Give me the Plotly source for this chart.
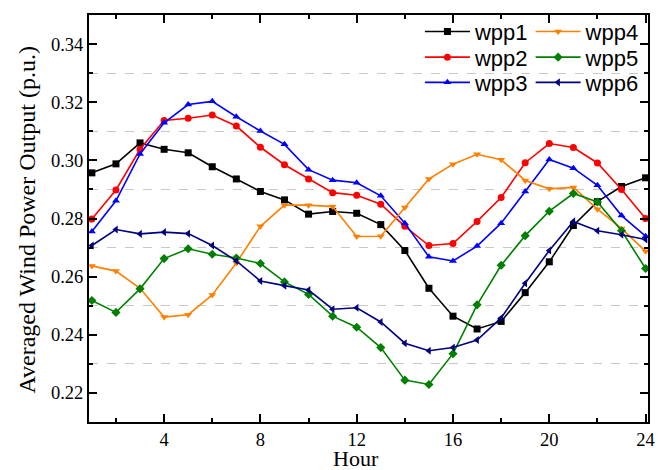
import plotly.graph_objects as go

hours = list(range(1, 25))
wpp1 = [0.2957, 0.2988, 0.3060, 0.3038, 0.3026, 0.2978, 0.2936, 0.2893, 0.2864, 0.2815, 0.2824, 0.2818,
        0.2779, 0.2690, 0.2560, 0.2464, 0.2420, 0.2446, 0.2545, 0.2651, 0.2776, 0.2858, 0.2910, 0.2940]
wpp2 = [0.2798, 0.2898, 0.3038, 0.3137, 0.3145, 0.3156, 0.3118, 0.3045, 0.2985, 0.2936, 0.2889, 0.2880,
        0.2849, 0.2773, 0.2707, 0.2714, 0.2790, 0.2872, 0.2992, 0.3058, 0.3044, 0.2991, 0.2900, 0.2800]
wpp3 = [0.2755, 0.2861, 0.3022, 0.3129, 0.3192, 0.3203, 0.3150, 0.3101, 0.3055, 0.2968, 0.2932, 0.2923,
        0.2878, 0.2784, 0.2668, 0.2654, 0.2705, 0.2784, 0.2893, 0.3003, 0.2973, 0.2914, 0.2810, 0.2739]
wpp4 = [0.2637, 0.2619, 0.2560, 0.2461, 0.2469, 0.2537, 0.2647, 0.2773, 0.2846, 0.2846, 0.2841, 0.2738,
        0.2739, 0.2838, 0.2936, 0.2987, 0.3021, 0.3002, 0.2931, 0.2902, 0.2907, 0.2832, 0.2766, 0.2687]
wpp5 = [0.2518, 0.2477, 0.2558, 0.2662, 0.2696, 0.2677, 0.2664, 0.2645, 0.2582, 0.2539, 0.2464, 0.2426,
        0.2356, 0.2244, 0.2229, 0.2335, 0.2503, 0.2639, 0.2741, 0.2825, 0.2886, 0.2857, 0.2758, 0.2628]
wpp6 = [0.2707, 0.2762, 0.2747, 0.2753, 0.2748, 0.2707, 0.2654, 0.2585, 0.2569, 0.2554, 0.2488, 0.2493,
        0.2444, 0.2371, 0.2345, 0.2356, 0.2382, 0.2458, 0.2577, 0.2690, 0.2790, 0.2758, 0.2744, 0.2728]

x_title = "Hour"
y_title = "Averaged Wind Power Output (p.u.)"

# name, values, colour, marker, legend id, (legend x, legend y)
series = [
    ("wpp1", wpp1, "#000000", "square", "legend", (0.592, 0.959)),
    ("wpp2", wpp2, "#FF0000", "circle", "legend2", (0.592, 0.896)),
    ("wpp3", wpp3, "#0000FF", "triangle-up", "legend3", (0.592, 0.834)),
    ("wpp4", wpp4, "#FF8000", "triangle-down", "legend4", (0.790, 0.959)),
    ("wpp5", wpp5, "#008000", "diamond", "legend5", (0.790, 0.896)),
    ("wpp6", wpp6, "#000080", "triangle-left", "legend6", (0.790, 0.834)),
]

fig = go.Figure()
legend_font = dict(family="Liberation Sans, Arial, sans-serif", size=22, color="black")
layout_legends = {}
for name, vals, color, sym, lg, (lx, ly) in series:
    fig.add_trace(go.Scatter(
        x=hours, y=vals, name=name, mode="lines+markers",
        line=dict(color=color, width=1.6),
        marker=dict(symbol=sym, size=7, color=color),
        legend=lg,
    ))
    layout_legends[lg] = dict(
        x=lx, y=ly, xanchor="left", yanchor="middle",
        font=legend_font, bgcolor="rgba(0,0,0,0)", itemwidth=45,
        borderwidth=0,
    )

serif = "Liberation Serif, Times New Roman, serif"
fig.update_layout(
    width=659, height=462,
    margin=dict(l=81, r=19, t=3, b=48),
    paper_bgcolor="white", plot_bgcolor="white",
    font=dict(family=serif, size=18.5, color="black"),
    showlegend=True,
    **layout_legends,
)
fig.add_annotation(
    text=x_title, xref="paper", yref="paper", x=0.5, y=0,
    xanchor="center", yanchor="middle", xshift=-13, yshift=-36,
    showarrow=False, font=dict(family=serif, size=22, color="black"),
)
fig.add_annotation(
    text=y_title, xref="paper", yref="paper", x=0, y=0.5,
    xanchor="center", yanchor="middle", xshift=-63, yshift=-2, textangle=-90,
    showarrow=False, font=dict(family=serif, size=24, color="black"),
)
fig.update_xaxes(
    range=[0.88, 24.1], tick0=0, dtick=4, automargin=False,
    ticks="inside", ticklen=8, tickwidth=1.5, tickcolor="black",
    showline=True, linecolor="black", linewidth=2, mirror="ticks",
    showgrid=False, zeroline=False,
    minor=dict(dtick=2, tick0=0, ticks="inside", ticklen=4, tickwidth=1.5, tickcolor="black", showgrid=False),
    tickfont=dict(family=serif, size=18.5),
)
fig.update_yaxes(
    range=[0.21, 0.35], tick0=0, dtick=0.02, tickformat=".2f", automargin=False,
    ticks="inside", ticklen=8, tickwidth=1.5, tickcolor="black",
    showline=True, linecolor="black", linewidth=2, mirror="ticks",
    showgrid=False, zeroline=False,
    minor=dict(dtick=0.01, tick0=0, ticks="inside", ticklen=4, tickwidth=1.5, tickcolor="black",
               showgrid=True, gridcolor="#c8c8c8", griddash="dash", gridwidth=1),
    tickfont=dict(family=serif, size=18.5),
)

fig.write_html("out.html")
